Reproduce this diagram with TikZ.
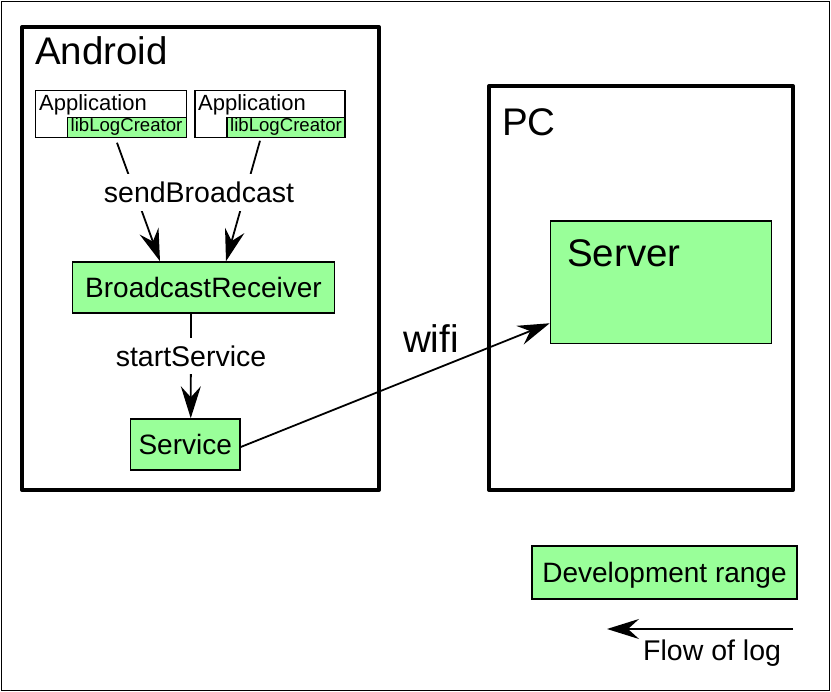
\documentclass[tikz,border=0pt]{standalone}
\usepackage{fontspec}
\setmainfont{Liberation Sans}
\usetikzlibrary{arrows.meta}
\definecolor{devgreen}{RGB}{153,255,153}
\begin{document}
\begin{tikzpicture}[x=1pt,y=-1pt,
  frame/.style={draw, line width=4pt, line join=round, inner sep=0pt},
  greenbox/.style={draw, fill=devgreen, line width=1.5pt, inner sep=0pt, align=center},
  appbox/.style={draw, line width=1.5pt, inner sep=0pt},
  conn/.style={line width=1.8pt, -{Stealth[length=32pt,width=20pt,inset=11pt]}},
  lbl/.style={fill=white, inner xsep=2pt, inner ysep=8pt, font=\fontsize{28.5}{30}\selectfont},
  bigtxt/.style={font=\fontsize{38.5}{40}\selectfont, inner sep=0pt, anchor=base west},
  midtxt/.style={font=\fontsize{28}{30}\selectfont},
  apptxt/.style={font=\fontsize{22}{24}\selectfont, inner sep=0pt, anchor=base west},
  libtxt/.style={font=\fontsize{18.6}{20}\selectfont, inner sep=0pt, anchor=base west},
]
\useasboundingbox (0,0) rectangle (831,692);
\draw[line width=1.5pt] (1.5,1.5) rectangle (829.5,690.5);

% frames
\node[frame, minimum width=357pt, minimum height=463pt] (android) at (200.5,258.5) {};
\node[bigtxt] (androidlbl) at (35,65) {Android};
\node[frame, minimum width=304pt, minimum height=404pt] (pc) at (641,288) {};
\node[bigtxt] (pclbl) at (502,136) {PC};

% applications
\node[appbox, minimum width=151pt, minimum height=47pt] (app1) at (111,114) {};
\node[apptxt] (app1lbl) at (39,111) {Application};
\node[greenbox, minimum width=119pt, minimum height=20pt] (lib1) at (127,127.5) {};
\node[libtxt] (lib1lbl) at (70.5,132) {libLogCreator};

\node[appbox, minimum width=150pt, minimum height=47pt] (app2) at (270,114) {};
\node[apptxt] (app2lbl) at (198,111) {Application};
\node[greenbox, minimum width=118pt, minimum height=20pt] (lib2) at (286,127.5) {};
\node[libtxt] (lib2lbl) at (230,132) {libLogCreator};

% android components
\node[greenbox, midtxt, minimum width=262pt, minimum height=51pt] (br) at (203.5,287.5) {BroadcastReceiver};
\node[greenbox, midtxt, minimum width=109.5pt, minimum height=51pt] (service) at (185.25,444.5) {Service};

% server
\node[greenbox, minimum width=221pt, minimum height=122.5pt] (server) at (661,282.25) {};
\node[bigtxt] (serverlbl) at (567,267) {Server};

% connectors
\draw[conn] ([shift={(6,4.5)}]app1.south) -- ([xshift=-43.5pt]br.north);
\draw[conn] ([shift={(-10,2.5)}]app2.south) -- ([xshift=22.5pt]br.north);
\node[lbl] (sendlbl) at (199,192.5) {sendBroadcast};

\draw[conn] ([xshift=-12.5pt]br.south) -- ([xshift=5.5pt]service.north);
\node[lbl] (startlbl) at (191,356) {startService};

\draw[conn] ([yshift=-2.5pt]service.east) -- ([yshift=21pt]server.south west);
\node[font=\fontsize{38.5}{40}\selectfont, inner sep=0pt, anchor=base west] (wifilbl) at (403,353) {wifi};

% legend
\node[greenbox, midtxt, text depth=0pt, minimum width=265pt, minimum height=53pt] (dev) at (664.5,572.5) {Development range};
\coordinate (flowstart) at (793,629);
\coordinate (flowend) at (607,629);
\draw[conn] (flowstart) -- (flowend);
\node[font=\fontsize{28.5}{30}\selectfont, inner sep=0pt, anchor=base west] (flowlbl) at (643,660) {Flow of log};
\end{tikzpicture}
\end{document}
